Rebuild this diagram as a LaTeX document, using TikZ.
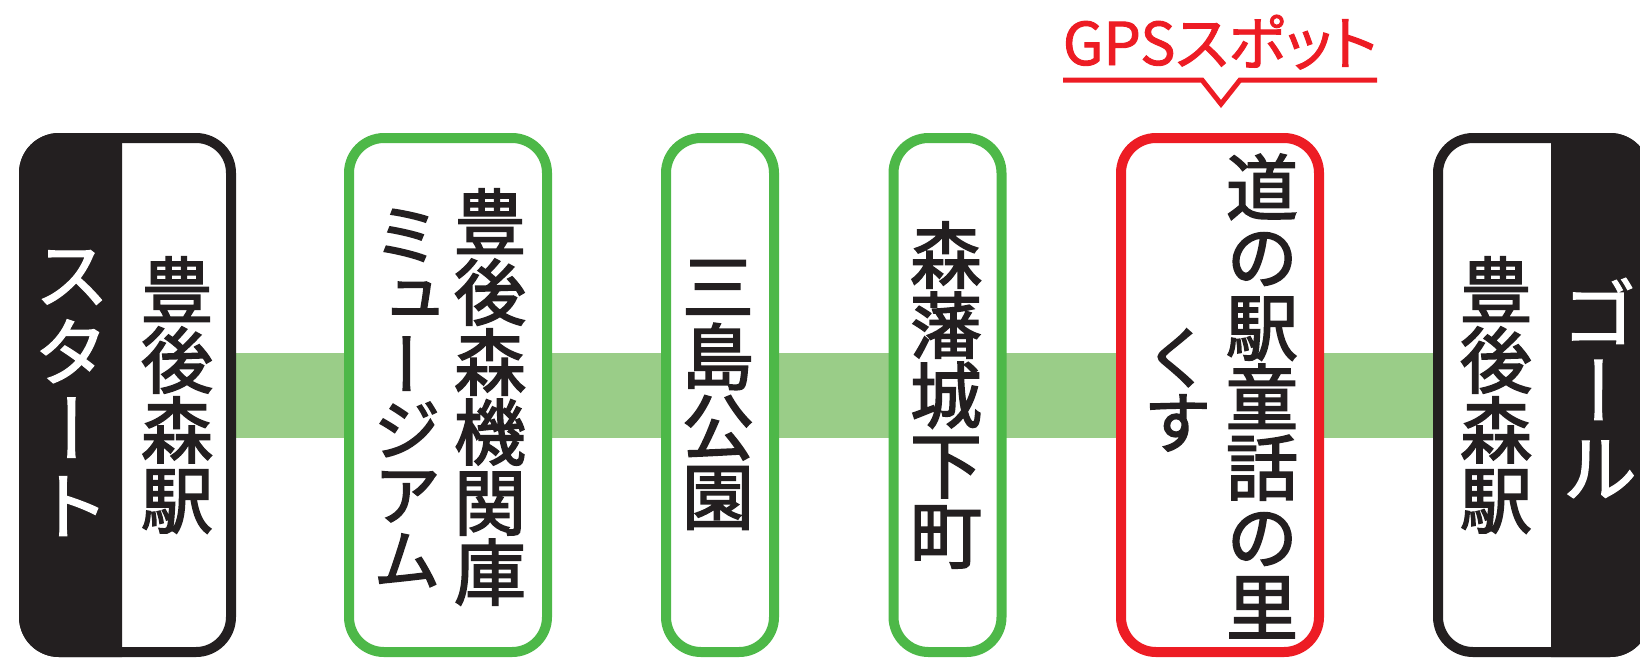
\documentclass[tikz,border=0pt]{standalone}
\usepackage{fontspec}
\usetikzlibrary{backgrounds}
\newfontfamily\jpv[RawFeature=+vert, FakeBold=2.3]{Noto Sans CJK JP}
\newfontfamily\jpw[RawFeature=+vert, FakeBold=1.6]{Noto Sans CJK JP}
\newfontfamily\jph[RawFeature=+palt, FakeBold=1.6]{Noto Sans CJK JP}
\definecolor{ink}{HTML}{231F20}
\definecolor{gborder}{HTML}{4DB848}
\definecolor{gbar}{HTML}{9ACD88}
\definecolor{rspot}{HTML}{ED1C24}
\tikzset{
  box/.style={draw, line width=10pt, rounded corners=35pt, fill=white, minimum height=514pt, inner sep=0pt},
  widebox/.style={box, minimum width=207pt},
  midbox/.style={box, minimum width=198pt},
  narrowbox/.style={box, minimum width=108pt},
  vcol/.style={align=center, inner sep=0pt, text=ink, font={\jpv\fontsize{72}{70}\selectfont\lineskiplimit=-100pt\lineskip=0pt}},
  vcolk/.style={vcol, font={\jpv\fontsize{68}{65}\selectfont\lineskiplimit=-100pt\lineskip=0pt}},
  vcolw/.style={vcol, text=white, font={\jpw\fontsize{76}{77}\selectfont\lineskiplimit=-100pt\lineskip=0pt}},
  bar/.style={gbar, line width=85pt},
  callout/.style={rspot, line width=5pt, line join=miter},
}
\begin{document}
\begin{tikzpicture}[x=1pt,y=-1pt]
\useasboundingbox (0,0) rectangle (1640,657);
% boxes
\node[widebox, draw=ink] (start) at (127.5,395) {};
\node[midbox, draw=gborder] (museum) at (448,395) {};
\node[narrowbox, draw=gborder] (mishima) at (720,395) {};
\node[narrowbox, draw=gborder] (morihan) at (947.5,395) {};
\node[midbox, draw=rspot] (michi) at (1220,395) {};
\node[widebox, draw=ink] (goal) at (1541.5,395) {};
% black halves
\begin{scope}
  \clip (0,0) rectangle (122,700);
  \fill[ink, rounded corners=40pt] (start.north west) rectangle (start.south east);
\end{scope}
\begin{scope}
  \clip (1551,0) rectangle (1700,700);
  \fill[ink, rounded corners=40pt] (goal.north west) rectangle (goal.south east);
\end{scope}
% line between stations
\begin{scope}[on background layer]
  \draw[bar] (start.center) -- (goal.center);
\end{scope}
% labels
\node[vcolw] (startlbl) at (72,393) {ス\\タ\\ー\\ト};
\node[vcol] (startname) at (177,395) {豊\\後\\森\\駅};
\node[vcolk] (museumkana) at (407,398) {ミ\\ュ\\ー\\ジ\\ア\\ム};
\node[vcol] (museumname) at (490,397) {豊\\後\\森\\機\\関\\庫};
\node[vcol] (mishimaname) at (718,395) {三\\島\\公\\園};
\node[vcol] (morihanname) at (946,395) {森\\藩\\城\\下\\町};
\node[vcolk] (michikana) at (1178,390) {く\\す};
\node[vcol] (michiname) at (1262,396) {道\\の\\駅\\童\\話\\の\\里};
\node[vcol] (goalname) at (1496,395) {豊\\後\\森\\駅};
\node[vcolw] (goallbl) at (1599,388) {ゴ\\ー\\ル};
% GPS spot callout
\node[font={\jph\fontsize{59}{59}\selectfont}, text=rspot, anchor=base, inner sep=0pt] (gps) at (1220,65) {GPSスポット};
\coordinate (c1) at (1063,80);
\coordinate (c2) at (1202,80);
\coordinate (c3) at (1221,104);
\coordinate (c4) at (1240,80);
\coordinate (c5) at (1377,80);
\draw[callout] (c1) -- (c2) -- (c3) -- (c4) -- (c5);
\end{tikzpicture}
\end{document}
